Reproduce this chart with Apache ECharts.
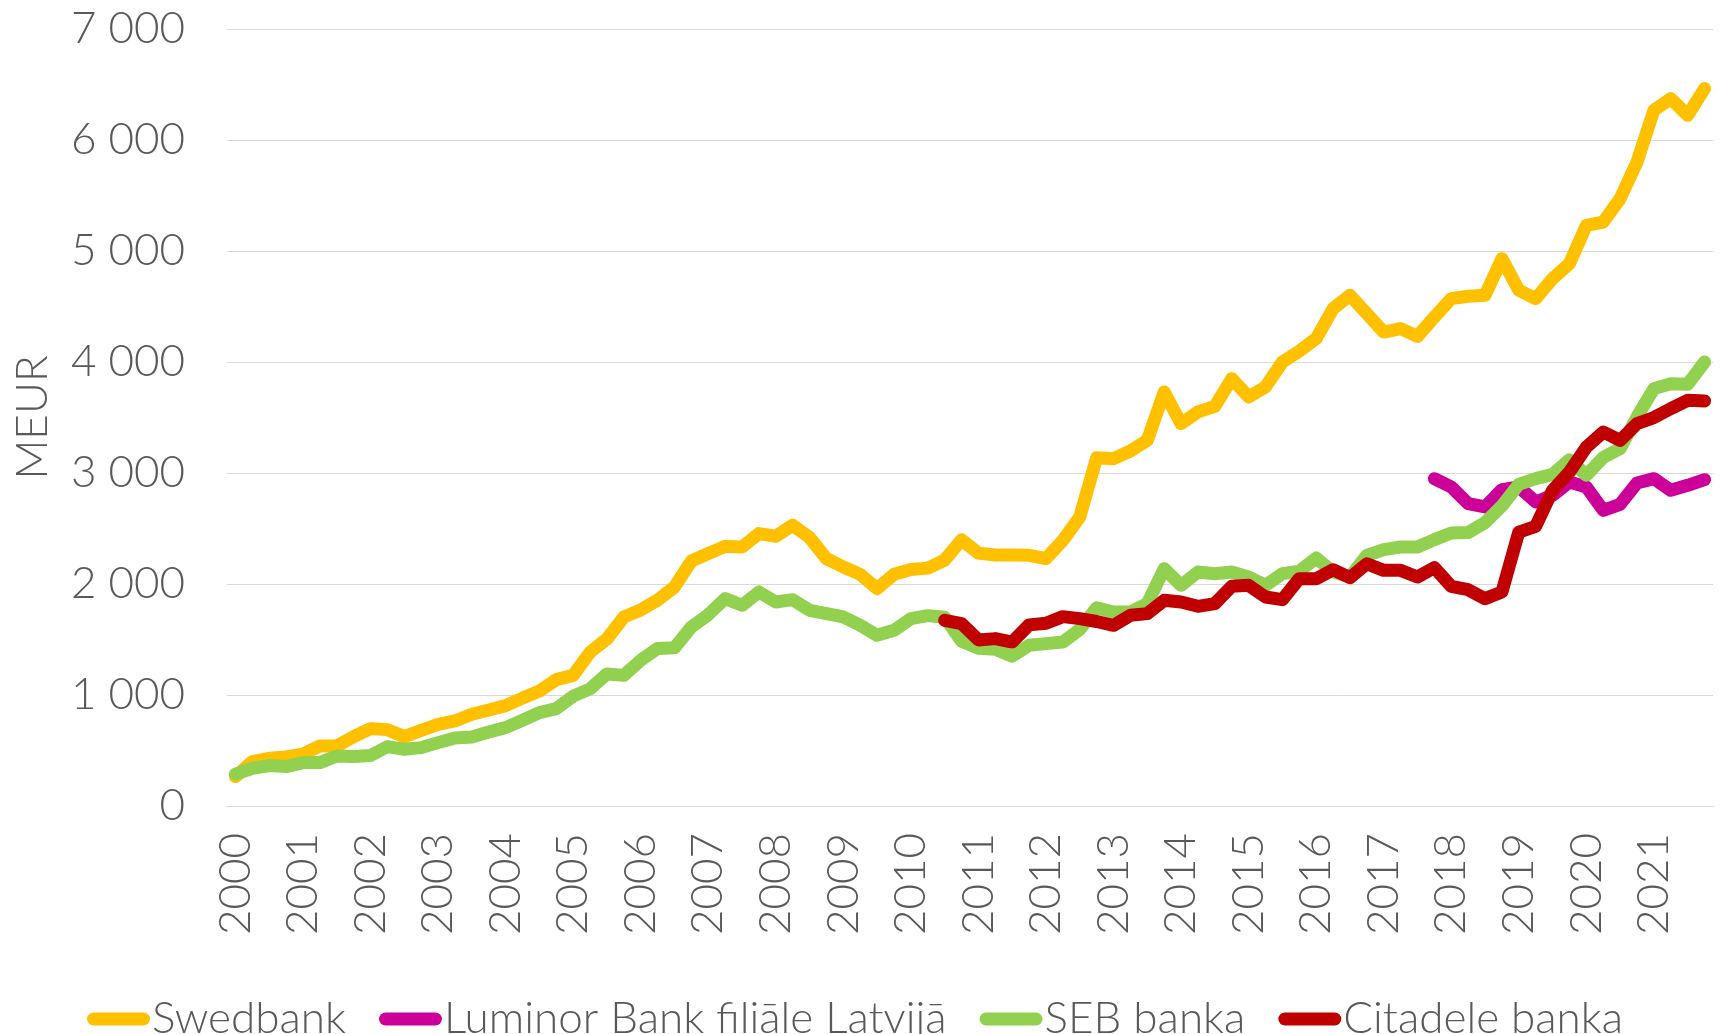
<!DOCTYPE html>
<html>
<head>
<meta charset="utf-8">
<script src="https://cdn.jsdelivr.net/npm/echarts@6/dist/echarts.min.js"></script>
<style>
html,body{margin:0;padding:0;background:#fff;}
#chart{width:1723px;height:1034px;}
</style>
</head>
<body>
<div id="chart"></div>
<script>
const years = ['2000','2001','2002','2003','2004','2005','2006','2007','2008','2009','2010',
  '2011','2012','2013','2014','2015','2016','2017','2018','2019','2020','2021'];
const quarters = ['Q1','Q2','Q3','Q4'];

const swedbank = [265,400,430,442,468,541,541,625,697,688,625,682,735,766,826,865,
  904,972,1035,1139,1177,1385,1505,1703,1766,1855,1973,2208,2274,2339,2333,2454,
  2430,2529,2418,2229,2153,2087,1958,2087,2130,2143,2216,2398,2278,2262,2262,2258,
  2228,2393,2604,3137,3129,3198,3294,3730,3445,3550,3601,3850,3685,3775,4000,4098,
  4211,4481,4601,4436,4270,4301,4231,4405,4571,4592,4601,4931,4646,4571,4751,4886,
  5231,5261,5472,5802,6268,6373,6222,6463];

const seb = [288,340,364,355,391,391,450,445,454,535,511,526,571,613,622,667,
  706,772,841,877,990,1055,1190,1177,1313,1420,1425,1613,1724,1868,1808,1928,
  1838,1859,1763,1733,1703,1628,1538,1583,1688,1715,1700,1485,1422,1413,1350,1448,
  1463,1477,1590,1785,1748,1748,1823,2138,1988,2108,2093,2108,2063,1988,2093,2115,
  2234,2108,2063,2258,2310,2333,2333,2400,2460,2463,2553,2703,2898,2949,2988,3120,
  2979,3139,3220,3505,3760,3805,3799,4000];

// Citadele banka: from 2010 Q3
const citadeleStart = '2010Q3';
const citadele = [1673,1643,1496,1508,1477,1632,1646,1706,1688,1662,1628,1718,
  1733,1853,1838,1799,1823,1979,1988,1883,1859,2048,2048,2129,2057,2183,2123,2123,
  2063,2148,1979,1949,1868,1928,2468,2520,2844,3009,3234,3369,3294,3445,3499,3580,
  3655,3649];

// Luminor Bank filiāle Latvijā: from 2017 Q4
const luminorStart = '2017Q4';
const luminor = [2949,2874,2724,2694,2850,2874,2739,2799,2919,2874,2664,2718,
  2910,2949,2844,2889,2940];

const seriesNames = ['Swedbank','Luminor Bank filiāle Latvijā','SEB banka','Citadele banka'];
const yTicks = [0,1000,2000,3000,4000,5000,6000,7000];

const categories = [];
years.forEach(y => quarters.forEach(q => categories.push(y + q)));

function pad(startCat, vals) {
  const idx = categories.indexOf(startCat);
  const out = new Array(categories.length).fill(null);
  vals.forEach((v, k) => { out[idx + k] = v; });
  return out;
}

const FONT = 'Lato, "Open Sans", sans-serif';
const FW = 300;
const FS = 44;
const TXT = '#595959';

const chart = echarts.init(document.getElementById('chart'), null, {renderer: 'canvas'});

function mkLine(name, data, color) {
  return {
    name: name, type: 'line', data: data, symbol: 'none', connectNulls: false,
    lineStyle: {width: 13, color: color, cap: 'round', join: 'round'},
    itemStyle: {color: color},
    emphasis: {disabled: true}
  };
}

const capsule = 'path://M6.5,0 L56.5,0 A6.5,6.5 0 0 1 56.5,13 L6.5,13 A6.5,6.5 0 0 1 6.5,0 Z';

chart.setOption({
  animation: false,
  backgroundColor: '#ffffff',
  grid: {left: 227, right: 10, top: 29, bottom: 228},
  legend: {
    data: seriesNames.map(n => ({name: n, icon: capsule})),
    left: 82, top: 992,
    itemWidth: 63, itemHeight: 13, itemGap: 33,
    textStyle: {fontFamily: FONT, fontSize: FS, fontWeight: FW, color: TXT, padding: [0,0,0,-3]}
  },
  xAxis: {
    type: 'category', data: categories, boundaryGap: true,
    axisLine: {show: true, lineStyle: {color: '#d9d9d9', width: 1}},
    axisTick: {show: false},
    axisLabel: {
      interval: 3, rotate: 90, margin: 27,
      fontFamily: FONT, fontSize: FS, fontWeight: FW, color: TXT,
      formatter: v => v.slice(0, 4)
    }
  },
  yAxis: {
    type: 'value', min: yTicks[0], max: yTicks[yTicks.length - 1], interval: 1000,
    name: 'MEUR', nameLocation: 'middle', nameRotate: 90, nameGap: 172,
    nameTextStyle: {fontFamily: FONT, fontSize: FS, fontWeight: FW, color: TXT},
    axisLine: {show: false}, axisTick: {show: false},
    splitLine: {show: true, lineStyle: {color: '#d9d9d9', width: 1}},
    axisLabel: {
      margin: 42, fontFamily: FONT, fontSize: FS, fontWeight: FW, color: TXT,
      formatter: v => String(v).replace(/\B(?=(\d{3})+(?!\d))/g, ' ')
    }
  },
  series: [
    mkLine(seriesNames[0], swedbank, '#FFC000'),
    mkLine(seriesNames[1], pad(luminorStart, luminor), '#CC0099'),
    mkLine(seriesNames[2], seb, '#92D050'),
    mkLine(seriesNames[3], pad(citadeleStart, citadele), '#C00000')
  ]
});
</script>
</body>
</html>
